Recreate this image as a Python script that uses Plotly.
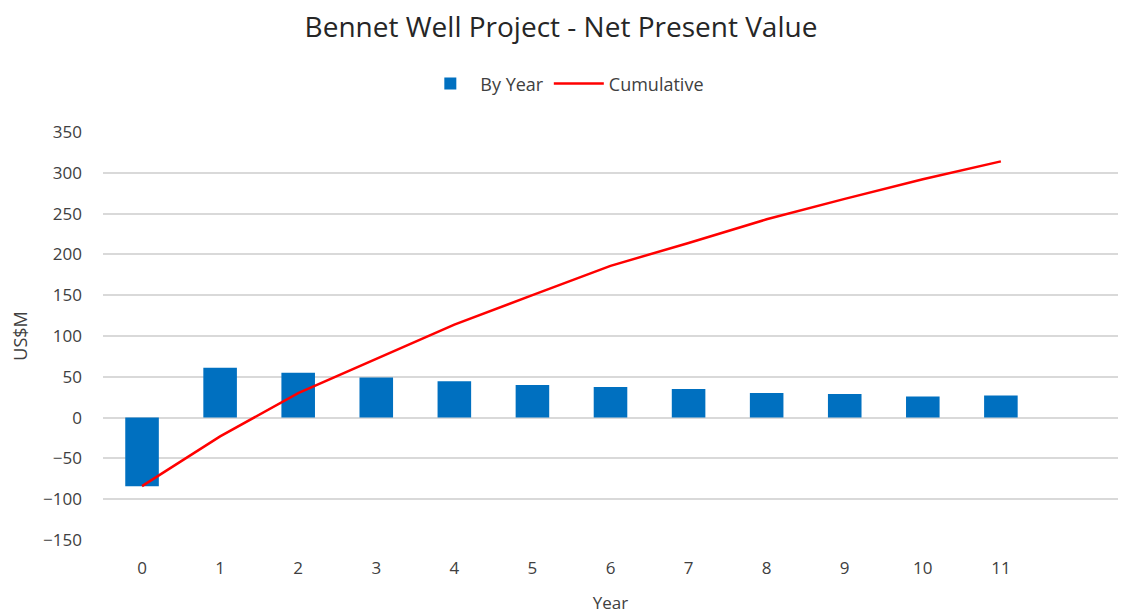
import plotly.graph_objects as go

years = list(range(12))
by_year = [-84, 61, 55, 49, 44.5, 40, 37.5, 35, 30, 29, 26, 27]
cumulative = [-84, -23, 30, 72, 114, 150, 186, 214, 243, 268, 292, 314]
y_ticks = [-150, -100, -50, 0, 50, 100, 150, 200, 250, 300, 350]

font_family = "Open Sans, Liberation Sans, sans-serif"
text_grey = "#404040"

fig = go.Figure()
fig.add_trace(go.Bar(
    x=years, y=by_year, name="By Year",
    marker=dict(color="#0070C0", line=dict(width=0)),
    width=0.43,
))
fig.add_trace(go.Scatter(
    x=years, y=cumulative, name="Cumulative", mode="lines",
    line=dict(color="#FF0000", width=2.5),
))

fig.update_layout(
    width=1122, height=614,
    paper_bgcolor="white", plot_bgcolor="white",
    margin=dict(l=103, r=4, t=132, b=74),
    font=dict(family=font_family, color=text_grey),
    title=dict(
        text="Bennet Well Project - Net Present Value",
        x=0.5, xanchor="center", y=0.956, yanchor="middle",
        font=dict(size=28, color="#262626", family=font_family),
    ),
    legend=dict(
        orientation="h", x=0.455, xanchor="center", y=1.118, yanchor="middle",
        font=dict(size=18, color=text_grey), itemwidth=50,
        traceorder="normal",
    ),
    bargap=0.57,
)

fig.update_xaxes(
    range=[-0.5, 12.5], tickmode="array", tickvals=years,
    ticktext=[str(v) for v in years],
    showgrid=False, zeroline=False, showline=False,
    ticks="", ticklabelstandoff=16,
    tickfont=dict(size=17, color=text_grey),
    title=dict(text="Year", font=dict(size=17, color=text_grey), standoff=20),
)
fig.update_yaxes(
    range=[-150, 350], tickmode="array", tickvals=y_ticks,
    showgrid=True, gridcolor="#d9d9d9", gridwidth=1.5,
    zeroline=False, showline=False, ticks="", ticklabelstandoff=20,
    tickfont=dict(size=17, color=text_grey),
    title=dict(text="US$M", font=dict(size=18, color=text_grey), standoff=10),
)

fig.write_html("out.html")
